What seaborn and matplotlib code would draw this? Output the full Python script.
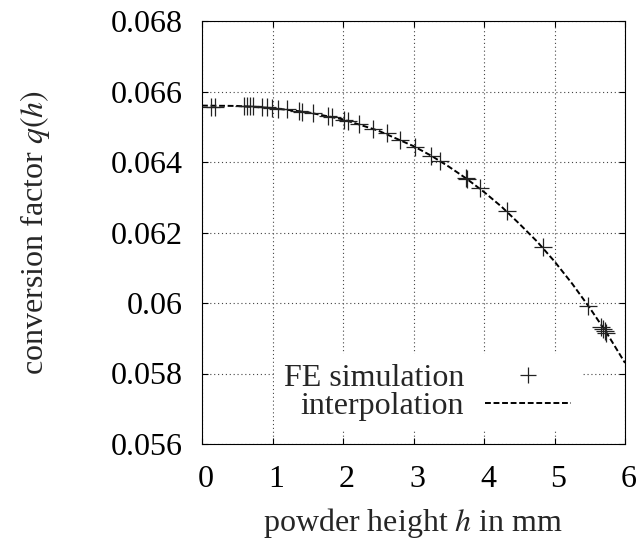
import matplotlib
matplotlib.use("Agg")
import matplotlib.pyplot as plt
import matplotlib.transforms as mtransforms
from matplotlib.lines import Line2D
import seaborn as sns
import pandas as pd

# FE simulation samples (powder height h in mm, conversion factor q)
h_sim = [0.13, 0.18, 0.60, 0.64, 0.68, 0.72, 0.85, 0.92, 0.99, 1.08, 1.20,
         1.37, 1.42, 1.58, 1.79, 1.84, 2.01, 2.07, 2.23, 2.43, 2.62, 2.81,
         3.02, 3.25, 3.37, 3.74, 3.76, 3.94, 4.32, 4.83, 5.48, 5.66, 5.69,
         5.71, 5.73]
q_sim = [0.06557, 0.06557, 0.06560, 0.06560, 0.06559, 0.06558, 0.06556,
         0.06555, 0.06553, 0.06551, 0.06549, 0.06544, 0.06543, 0.06538,
         0.06530, 0.06527, 0.06520, 0.06516, 0.06507, 0.06493, 0.06481,
         0.06463, 0.06443, 0.06418, 0.06404, 0.06355, 0.06352, 0.06325,
         0.06261, 0.06158, 0.05992, 0.05932, 0.05926, 0.05920, 0.05914]

# interpolation curve
h_fit = [0.0, 0.5, 1.0, 1.5, 2.0, 2.5, 3.0, 3.25, 3.5, 3.75, 4.0, 4.25,
         4.5, 4.75, 5.0, 5.25, 5.5, 5.75, 6.0]
q_fit = [0.06560, 0.06559, 0.06553, 0.06541, 0.06521, 0.06489, 0.06445,
         0.06418, 0.06387, 0.06353, 0.06315, 0.06273, 0.06225, 0.06175,
         0.06118, 0.06055, 0.05986, 0.05912, 0.05830]

x_ticks = [0, 1, 2, 3, 4, 5, 6]
y_ticks = [0.056, 0.058, 0.060, 0.062, 0.064, 0.066, 0.068]
y_tick_labels = ["0.056", "0.058", "0.06", "0.062", "0.064", "0.066", "0.068"]

labels = ["FE simulation", "interpolation"]
x_label = "powder height $h$ in mm"
y_label = "conversion factor $q(h)$"

sns.set_theme(style="white")
plt.rcParams["font.family"] = ["Liberation Serif", "DejaVu Serif"]
plt.rcParams["mathtext.fontset"] = "stix"
plt.rcParams["axes.linewidth"] = 0.8

df_sim = pd.DataFrame({"h": h_sim, "q": q_sim})
df_fit = pd.DataFrame({"h": h_fit, "q": q_fit})

fig = plt.figure(figsize=(6.36, 5.42), dpi=100)
ax = fig.add_axes([202 / 636, 98 / 542, 423 / 636, 423 / 542])

FS = 23
ax.grid(True, color="#444444", linestyle=(0, (1, 2.5)), linewidth=0.8)
ax.set_axisbelow(True)

sns.lineplot(data=df_fit, x="h", y="q", ax=ax, color="black", linewidth=1.4,
             sort=True, legend=False)
ax.lines[-1].set_dashes((3, 1.4))
sns.scatterplot(data=df_sim, x="h", y="q", ax=ax, marker="+", color="#222222",
                s=150, linewidth=0.9, legend=False, zorder=3)

ax.set_xlim(0, 6)
ax.set_ylim(0.056, 0.068)
ax.set_xticks(x_ticks)
ax.set_xticklabels([str(t) for t in x_ticks])
ax.set_yticks(y_ticks)
ax.set_yticklabels(y_tick_labels)
ax.tick_params(direction="in", length=4.5, width=0.8, top=True, right=True,
               bottom=True, left=True, labelsize=FS, colors="black")
ax.tick_params(axis="x", pad=15)
ax.tick_params(axis="y", pad=14)
for s in ax.spines.values():
    s.set_color("black")
    s.set_linewidth(0.8)

shift = mtransforms.ScaledTranslation(4 / 100, 0, fig.dpi_scale_trans)
for lab in ax.get_xticklabels():
    lab.set_transform(lab.get_transform() + shift)

ax.set_xlabel(x_label, fontsize=FS, labelpad=9)
ax.set_ylabel(y_label, fontsize=FS, labelpad=42)

handles = [
    Line2D([], [], linestyle="none", marker="+", color="#222222",
           markersize=12, markeredgewidth=0.9),
    Line2D([], [], color="black", linewidth=1.4, dashes=(3, 1.4)),
]
leg = ax.legend(handles, labels, loc="lower right",
                bbox_to_anchor=(0.895, 0.032), markerfirst=False,
                frameon=True, facecolor="white", edgecolor="none",
                framealpha=1, fancybox=False, fontsize=FS,
                handlelength=2.7, handletextpad=0.65, labelspacing=-0.05,
                borderpad=0.3, borderaxespad=0)

fig.savefig("out.png", dpi=100)
